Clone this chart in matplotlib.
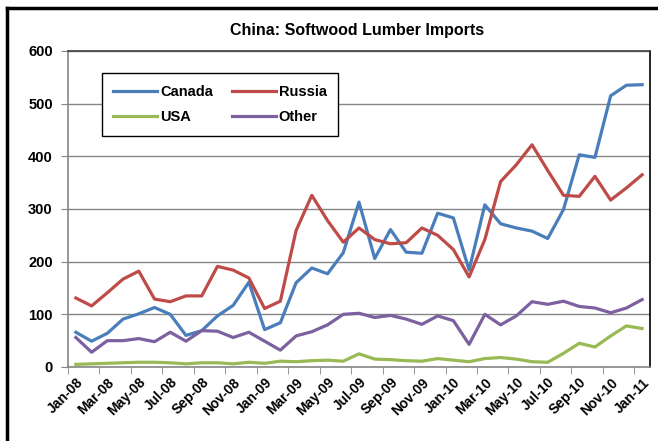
import numpy as np
import matplotlib
matplotlib.use("Agg")
import matplotlib.pyplot as plt
from matplotlib.lines import Line2D

plt.rcParams['font.family'] = ['Liberation Sans', 'DejaVu Sans']
plt.rcParams['font.weight'] = 'bold'

# monthly data, Jan-08 .. Jan-11
months = []
for yr in ['08', '09', '10']:
    for m in ['Jan', 'Feb', 'Mar', 'Apr', 'May', 'Jun', 'Jul', 'Aug', 'Sep', 'Oct', 'Nov', 'Dec']:
        months.append(m + '-' + yr)
months.append('Jan-11')

canada = [66, 49, 64, 91, 101, 113, 100, 60, 69, 97, 117, 161,
          71, 84, 160, 188, 177, 217, 313, 206, 261, 218, 216, 292,
          283, 184, 308, 272, 264, 258, 244, 299, 403, 398, 515, 535,
          536]
russia = [131, 116, 141, 167, 182, 129, 124, 135, 135, 191, 184, 169,
          111, 125, 259, 326, 278, 237, 264, 242, 234, 236, 264, 250,
          223, 171, 242, 352, 384, 422, 373, 326, 324, 362, 317, 340,
          365]
usa = [5, 6, 7, 8, 9, 9, 8, 6, 8, 8, 6, 9,
       7, 11, 10, 12, 13, 11, 25, 15, 14, 12, 11, 16,
       13, 10, 16, 18, 15, 10, 9, 26, 45, 38, 59, 78,
       73]
other = [56, 28, 50, 50, 54, 48, 66, 49, 69, 68, 56, 66,
         49, 32, 59, 67, 80, 100, 102, 94, 98, 91, 81, 97,
         88, 43, 100, 80, 97, 124, 119, 125, 115, 112, 103, 112,
         128]

x = np.arange(len(months))

fig = plt.figure(figsize=(6.58, 4.41), dpi=100)
ax = fig.add_axes([68/658, 1-367/441, (650-68)/658, (367-51)/441])

l1, = ax.plot(x, canada, color='#4A7EBB', lw=2.3, label='Canada', solid_joinstyle='round')
l2, = ax.plot(x, russia, color='#BE4B48', lw=2.3, label='Russia', solid_joinstyle='round')
l3, = ax.plot(x, usa, color='#98B954', lw=2.3, label='USA', solid_joinstyle='round')
l4, = ax.plot(x, other, color='#7D60A0', lw=2.3, label='Other', solid_joinstyle='round')

ax.set_xlim(-0.5, len(months) - 0.5)
ax.set_ylim(0, 600)
ax.set_yticks(range(0, 601, 100))
ax.grid(axis='y', color='#868686', lw=1)
ax.set_axisbelow(True)

ax.set_xticks(x[::2])
ax.set_xticklabels(months[::2], rotation=45, ha='right', rotation_mode='anchor',
                   fontsize=10, fontweight='bold')
ax.set_xticks(np.arange(-0.5, len(months), 2), minor=True)
ax.tick_params(axis='x', which='major', length=0, pad=6)
ax.tick_params(axis='x', which='minor', length=5, color='#868686')
ax.tick_params(axis='y', length=5, color='#868686', labelsize=10.5, pad=6)
for lab in ax.get_yticklabels():
    lab.set_fontweight('bold')

ax.spines['left'].set_color('#868686')
ax.spines['bottom'].set_color('#868686')
ax.spines['top'].set_color('#404040')
ax.spines['right'].set_color('black')
for s in ax.spines.values():
    s.set_linewidth(1.2)

# row-wise order: Canada, Russia / USA, Other
leg = ax.legend([l1, l3, l2, l4], ['Canada', 'USA', 'Russia', 'Other'],
                ncol=2, loc='upper left', bbox_to_anchor=(0.058, 0.93),
                frameon=True, fancybox=False, edgecolor='black', fontsize=10.5,
                handlelength=3.0, handletextpad=0.2, columnspacing=1.3,
                borderpad=0.8, labelspacing=0.8, borderaxespad=0)
leg.get_frame().set_linewidth(1.0)
leg.get_frame().set_alpha(1)

fig.text(0.543, 1-30/441, 'China: Softwood Lumber Imports', ha='center', va='center',
         fontsize=11.5, fontweight='bold')

# frame of the original chart (left and top edges visible)
fig.add_artist(Line2D([6.5/658, 6.5/658], [0, 1-8/441], transform=fig.transFigure,
                      color='black', lw=2.5))
fig.add_artist(Line2D([6.5/658, 1], [1-8/441, 1-8/441], transform=fig.transFigure,
                      color='black', lw=2.5))

fig.savefig('out.png', dpi=100)
